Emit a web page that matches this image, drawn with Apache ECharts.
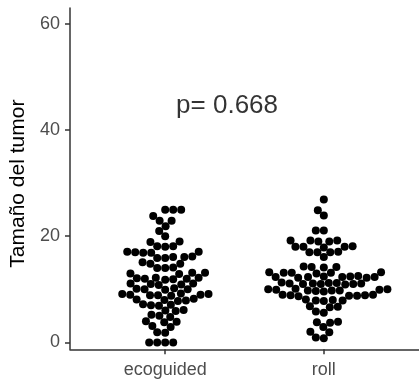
<!DOCTYPE html>
<html><head><meta charset="utf-8">
<script src="https://cdn.jsdelivr.net/npm/echarts@6/dist/echarts.min.js"></script>
<style>html,body{margin:0;padding:0;background:#fff}#c{width:419px;height:389px}</style>
</head><body><div id="c"></div>
<script>
const categories = ['ecoguided', 'roll'];
const ecoguided = [0, 0, 0, 0, 1.8, 1.9, 2.9, 3.1, 3.8, 3.9, 4.0, 4.8, 5.0, 5.2,
  5.9, 6.0, 6.1, 6.9, 7.0, 7.1, 7.2, 7.8, 7.9, 8.0, 8.1, 8.2,
  8.8, 8.9, 8.9, 9.0, 9.0, 9.1, 9.1, 9.2, 9.9, 10.0, 10.0, 10.1, 10.2,
  10.8, 10.9, 11.0, 11.1, 11.1, 11.8, 11.9, 12.0, 12.0, 12.1, 12.2, 12.2,
  12.9, 13.0, 13.1, 13.1, 14.0, 14.0, 14.1, 14.8, 14.8, 15.1,
  15.9, 15.9, 16.1, 16.1, 16.2, 16.9, 16.9, 17.0, 17.1, 17.1,
  18.0, 18.1, 18.1, 18.9, 19.0, 20.0, 21.0, 21.9, 22.9, 22.9, 23.8, 25, 25, 25];
const roll = [0.8, 0.9, 1.9, 2.0, 2.9, 3.7, 3.8, 3.9, 5.6, 5.8, 6.6, 6.7, 6.8,
  7.8, 7.9, 7.9, 8.0, 8.1, 8.7, 8.8, 8.8, 8.9, 8.9, 9.0, 9.0,
  9.6, 9.7, 9.8, 9.8, 9.8, 9.9, 9.9, 10.0, 10.0, 10.1,
  10.9, 11.0, 11.0, 11.0, 11.1, 11.1, 11.1, 11.2, 11.2, 11.3,
  12.2, 12.2, 12.3, 12.3, 12.3, 12.3, 12.4, 12.4, 12.5,
  13.0, 13.1, 13.1, 13.1, 13.2, 13.2, 14.1, 14.2, 14.2, 14.3, 16.1,
  17.0, 17.0, 17.0, 17.1, 17.9, 18.0, 18.0, 18.0, 18.1,
  19.0, 19.0, 19.2, 19.2, 19.2, 21.1, 21.1, 23.9, 24.9, 26.9];
const yTicks = [0, 20, 40, 60];
const pLabel = 'p= 0.668';
const pPos = [1.39, 44.5];

const FONT = '"Liberation Sans", Arial, sans-serif';
const chart = echarts.init(document.getElementById('c'), null, {renderer: 'canvas'});
const axisLine = {show: true, onZero: false, lineStyle: {color: '#333', width: 1.5}};
const axisTick = {show: true, length: 5, lineStyle: {color: '#333', width: 1.5}};
chart.setOption({
  animation: false,
  grid: {left: 70, top: 8, width: 356, height: 341.3},
  xAxis: {
    type: 'value', min: 0.4, max: 2.6,
    axisLine: axisLine, splitLine: {show: false},
    axisTick: Object.assign({customValues: [1, 2]}, axisTick),
    axisLabel: {customValues: [1, 2], formatter: v => categories[Math.round(v) - 1],
      color: '#4D4D4D', fontSize: 18, fontFamily: FONT, margin: 12}
  },
  yAxis: {
    type: 'value', min: -1.3, max: 63,
    name: 'Tamaño del tumor', nameLocation: 'middle', nameGap: 35,
    nameTextStyle: {fontSize: 21, color: '#000', fontFamily: FONT, padding: [0, 10, 0, 0]},
    axisLine: axisLine, splitLine: {show: false},
    axisTick: Object.assign({customValues: yTicks}, axisTick),
    axisLabel: {customValues: yTicks, color: '#4D4D4D', fontSize: 18, fontFamily: FONT, margin: 10}
  },
  series: []
});

const p0 = chart.convertToPixel({xAxisIndex: 0, yAxisIndex: 0}, [1, 0]);
const p1 = chart.convertToPixel({xAxisIndex: 0, yAxisIndex: 0}, [2, 20]);
const xScale = p1[0] - p0[0];
const yScale = (p0[1] - p1[1]) / 20;
const D = 8;

function swarm(values, center) {
  const order = values.map((v, i) => i).sort((a, b) => values[a] - values[b]);
  const placed = [];
  const out = new Array(values.length);
  for (const i of order) {
    const y = values[i] * yScale;
    const near = placed.filter(p => Math.abs(p.y - y) < D);
    const cands = [0];
    for (const p of near) {
      const w = Math.sqrt(D * D - (p.y - y) * (p.y - y));
      cands.push(p.x - w, p.x + w);
    }
    cands.sort((a, b) => Math.abs(a) - Math.abs(b) || a - b);
    let best = 0;
    for (const c of cands) {
      if (near.every(p => (p.x - c) * (p.x - c) + (p.y - y) * (p.y - y) >= D * D - 1e-6)) { best = c; break; }
    }
    placed.push({x: best, y: y});
    out[i] = [center + best / xScale, values[i]];
  }
  return out;
}

const dot = {color: '#000', opacity: 1};
chart.setOption({
  series: [
    {type: 'scatter', symbolSize: 8, itemStyle: dot, data: swarm(ecoguided, 1)},
    {type: 'scatter', symbolSize: 8, itemStyle: dot, data: swarm(roll, 2)},
    {type: 'scatter', symbolSize: 1, itemStyle: {color: 'rgba(0,0,0,0)'}, silent: true,
      label: {show: true, position: 'inside', formatter: pLabel, color: '#000', fontSize: 26, fontFamily: FONT},
      data: [pPos]}
  ]
});
</script></body></html>
